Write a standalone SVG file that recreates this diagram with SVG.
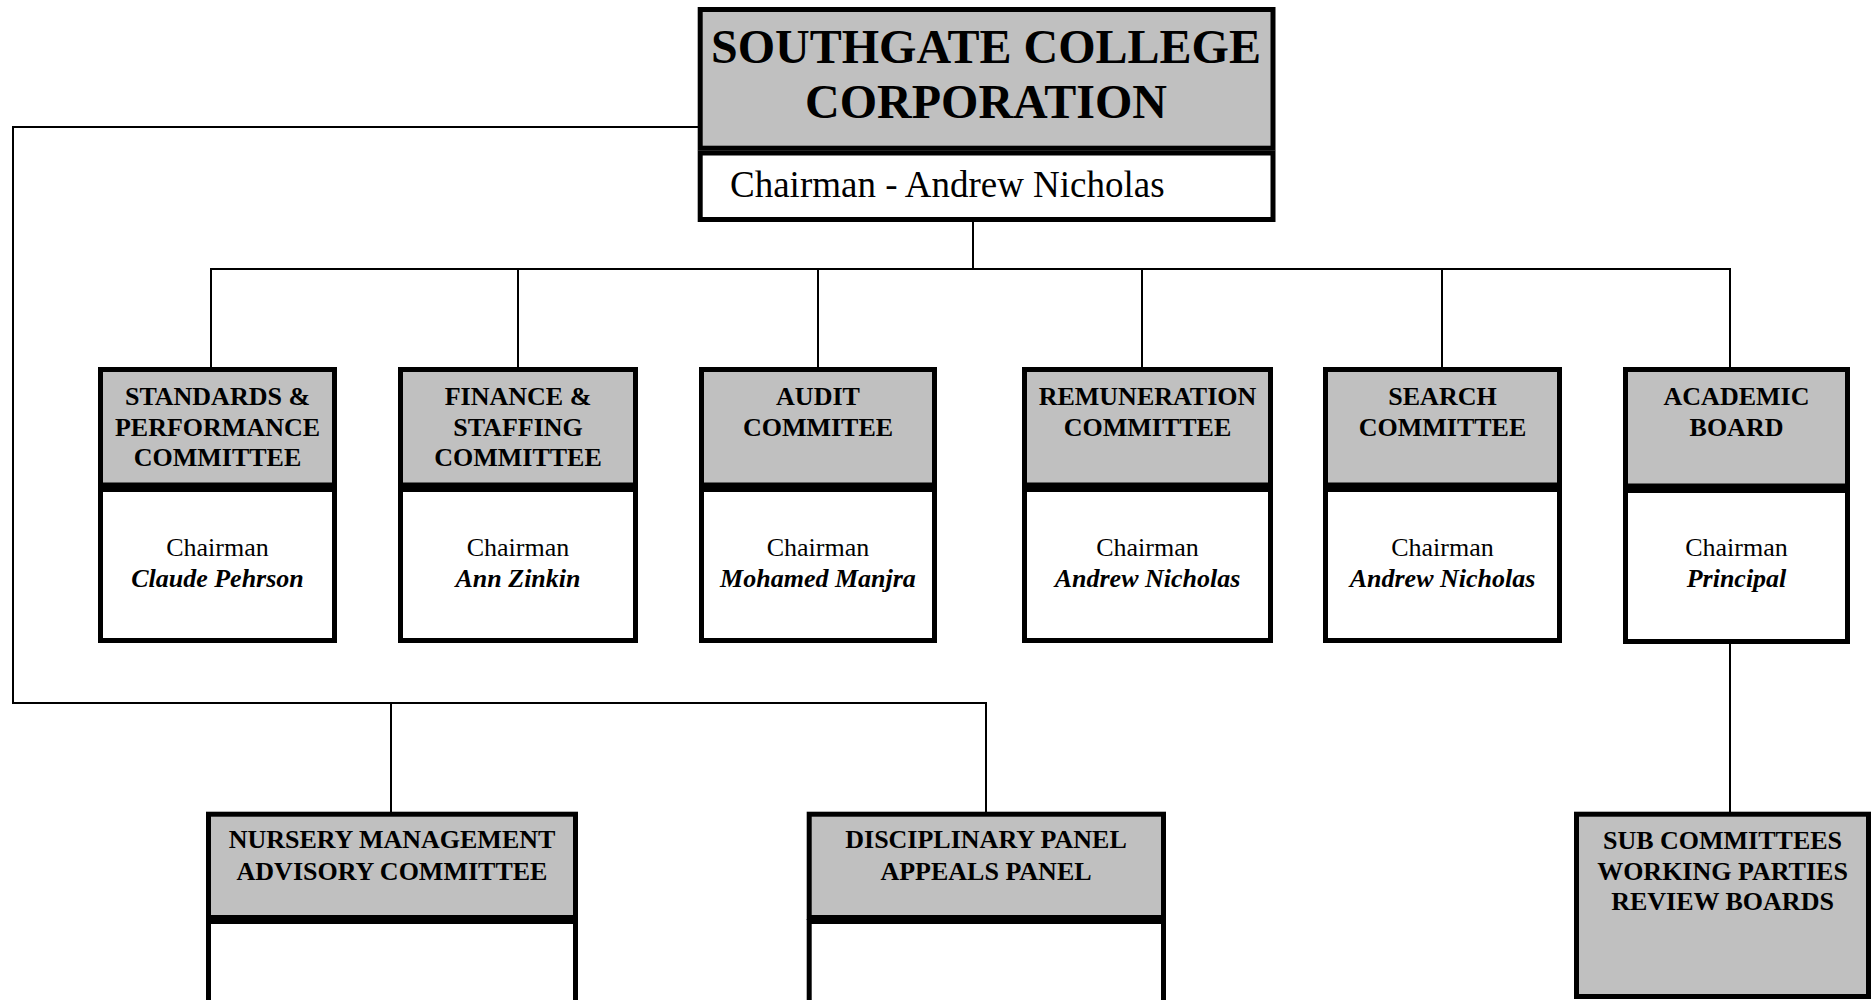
<svg xmlns="http://www.w3.org/2000/svg" width="1872" height="1000" viewBox="0 0 1872 1000">
<style>
.g{fill:#c0c0c0;stroke:#000;stroke-width:5}
.w{fill:#fff;stroke:#000;stroke-width:5}
.c{fill:none;stroke:#000;stroke-width:2}
.h{font-family:"Liberation Serif","Times New Roman",serif;font-weight:bold;font-size:26px;text-anchor:middle;fill:#000}
.r{font-family:"Liberation Serif","Times New Roman",serif;font-size:26px;text-anchor:middle;fill:#000}
.n{font-family:"Liberation Serif","Times New Roman",serif;font-weight:bold;font-style:italic;font-size:26px;text-anchor:middle;fill:#000}
</style>
<rect width="1872" height="1000" fill="#fff"/>
<g id="connectors">
<path class="c" d="M698,127 H13 V703 H986 V812"/>
<path class="c" d="M391,703 V812"/>
<path class="c" d="M973,222 V269"/>
<path class="c" d="M211,367 V269 H1730 V367"/>
<path class="c" d="M518,269 V367 M818,269 V367 M1142,269 V367 M1442,269 V367"/>
<path class="c" d="M1730,644 V812"/>
</g>
<g id="corporation">
<rect class="g" x="700.2" y="9.5" width="572.8" height="138.7"/>
<rect class="w" x="700.2" y="153" width="572.8" height="66.5"/>
<text x="986" y="63" style="font-family:'Liberation Serif','Times New Roman',serif;font-weight:bold;font-size:48px;text-anchor:middle">SOUTHGATE COLLEGE</text>
<text x="986" y="118" style="font-family:'Liberation Serif','Times New Roman',serif;font-weight:bold;font-size:48px;text-anchor:middle">CORPORATION</text>
<text x="730" y="197" style="font-family:'Liberation Serif','Times New Roman',serif;font-size:37px">Chairman - Andrew Nicholas</text>
</g>
<g id="standards">
<rect class="g" x="100.5" y="369.5" width="234" height="115.5"/>
<rect class="w" x="100.5" y="489.5" width="234" height="151"/>
<text class="h" x="217.5" y="405">STANDARDS &amp;</text>
<text class="h" x="217.5" y="435.5">PERFORMANCE</text>
<text class="h" x="217.5" y="466">COMMITTEE</text>
<text class="r" x="217.5" y="556">Chairman</text>
<text class="n" x="217.5" y="587">Claude Pehrson</text>
</g>
<g id="finance">
<rect class="g" x="400.5" y="369.5" width="235" height="115.5"/>
<rect class="w" x="400.5" y="489.5" width="235" height="151"/>
<text class="h" x="518" y="405">FINANCE &amp;</text>
<text class="h" x="518" y="435.5">STAFFING</text>
<text class="h" x="518" y="466">COMMITTEE</text>
<text class="r" x="518" y="556">Chairman</text>
<text class="n" x="518" y="587">Ann Zinkin</text>
</g>
<g id="audit">
<rect class="g" x="701.5" y="369.5" width="233" height="115.5"/>
<rect class="w" x="701.5" y="489.5" width="233" height="151"/>
<text class="h" x="818" y="405">AUDIT</text>
<text class="h" x="818" y="435.5">COMMITEE</text>
<text class="r" x="818" y="556">Chairman</text>
<text class="n" x="818" y="587">Mohamed Manjra</text>
</g>
<g id="remuneration">
<rect class="g" x="1024.5" y="369.5" width="246" height="115.5"/>
<rect class="w" x="1024.5" y="489.5" width="246" height="151"/>
<text class="h" x="1147.5" y="405">REMUNERATION</text>
<text class="h" x="1147.5" y="435.5">COMMITTEE</text>
<text class="r" x="1147.5" y="556">Chairman</text>
<text class="n" x="1147.5" y="587">Andrew Nicholas</text>
</g>
<g id="search">
<rect class="g" x="1325.5" y="369.5" width="234" height="115.5"/>
<rect class="w" x="1325.5" y="489.5" width="234" height="151"/>
<text class="h" x="1442.5" y="405">SEARCH</text>
<text class="h" x="1442.5" y="435.5">COMMITTEE</text>
<text class="r" x="1442.5" y="556">Chairman</text>
<text class="n" x="1442.5" y="587">Andrew Nicholas</text>
</g>
<g id="academic">
<rect class="g" x="1625.5" y="369.5" width="222" height="116.5"/>
<rect class="w" x="1625.5" y="490.5" width="222" height="151"/>
<text class="h" x="1736.5" y="405">ACADEMIC</text>
<text class="h" x="1736.5" y="435.5">BOARD</text>
<text class="r" x="1736.5" y="556">Chairman</text>
<text class="n" x="1736.5" y="587">Principal</text>
</g>
<g id="nursery">
<rect class="g" x="208.5" y="814.2" width="367" height="103.3"/>
<rect class="w" x="208.5" y="921.5" width="367" height="100"/>
<text class="h" x="392" y="848">NURSERY MANAGEMENT</text>
<text class="h" x="392" y="879.5">ADVISORY COMMITTEE</text>
</g>
<g id="disciplinary">
<rect class="g" x="809.2" y="814.2" width="354.3" height="103.3"/>
<rect class="w" x="809.2" y="921.5" width="354.3" height="100"/>
<text class="h" x="986" y="848">DISCIPLINARY PANEL</text>
<text class="h" x="986" y="879.5">APPEALS PANEL</text>
</g>
<g id="subcommittees">
<rect class="g" x="1576.5" y="814.2" width="292" height="182.3"/>
<text class="h" x="1722.5" y="849">SUB COMMITTEES</text>
<text class="h" x="1722.5" y="879.5">WORKING PARTIES</text>
<text class="h" x="1722.5" y="910">REVIEW BOARDS</text>
</g>
</svg>
